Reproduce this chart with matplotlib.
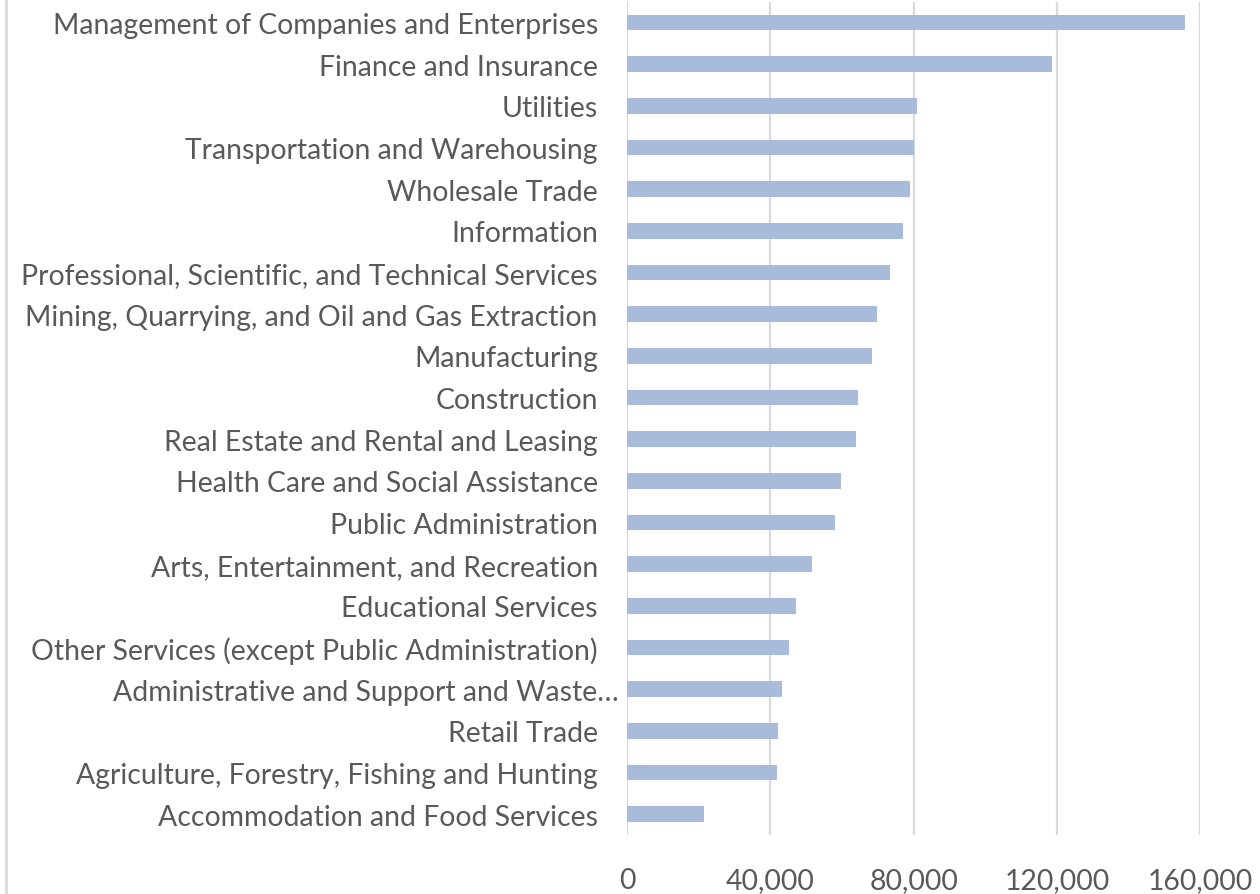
import matplotlib.pyplot as plt
from matplotlib.lines import Line2D
from matplotlib.ticker import FuncFormatter
import matplotlib.transforms as mtransforms

# Industries, top to bottom as shown
industries = [
    "Management of Companies and Enterprises",
    "Finance and Insurance",
    "Utilities",
    "Transportation and Warehousing",
    "Wholesale Trade",
    "Information",
    "Professional, Scientific, and Technical Services",
    "Mining, Quarrying, and Oil and Gas Extraction",
    "Manufacturing",
    "Construction",
    "Real Estate and Rental and Leasing",
    "Health Care and Social Assistance",
    "Public Administration",
    "Arts, Entertainment, and Recreation",
    "Educational Services",
    "Other Services (except Public Administration)",
    "Administrative and Support and Waste\u2026",
    "Retail Trade",
    "Agriculture, Forestry, Fishing and Hunting",
    "Accommodation and Food Services",
]
values = [155600, 118700, 81000, 80000, 79100, 76900, 73400, 69800, 68250,
          64400, 63900, 59800, 58000, 51650, 47100, 45300, 43400, 42200,
          42000, 21450]
xticks = [0, 40000, 80000, 120000, 160000]

plt.rcParams['font.family'] = ['Lato', 'DejaVu Sans']

fig = plt.figure(figsize=(12.6, 8.95), dpi=100)
ax = fig.add_axes([0.4976, 0.066, 0.455, 0.931])

pos = list(range(len(industries)))[::-1]
ax.barh(pos, values, height=0.38, color="#A9BBDA", zorder=3)

ax.set_xlim(0, 160000)
ax.set_ylim(-0.5, len(industries) - 0.5)
ax.set_xticks(xticks)
ax.xaxis.set_major_formatter(FuncFormatter(lambda v, p: f"{int(v):,}"))
ax.set_yticks(pos)
ax.set_yticklabels(industries)

ax.grid(axis="x", color="#D9D9D9", linewidth=1.6, zorder=0)
for s in ax.spines.values():
    s.set_visible(False)
ax.tick_params(axis="both", length=0, labelsize=20.4, labelcolor="#595959")
ax.tick_params(axis="y", pad=21)
ax.tick_params(axis="x", pad=23)

# the truncated label sits a bit further right
lab = ax.get_yticklabels()[16]
lab.set_transform(lab.get_transform() +
                  mtransforms.ScaledTranslation(15 / 72, 0, fig.dpi_scale_trans))

# chart border on the left edge
fig.add_artist(Line2D([0.005, 0.005], [0, 1], color="#D9D9D9", linewidth=2,
                      transform=fig.transFigure))

plt.savefig("out.png", dpi=100)
